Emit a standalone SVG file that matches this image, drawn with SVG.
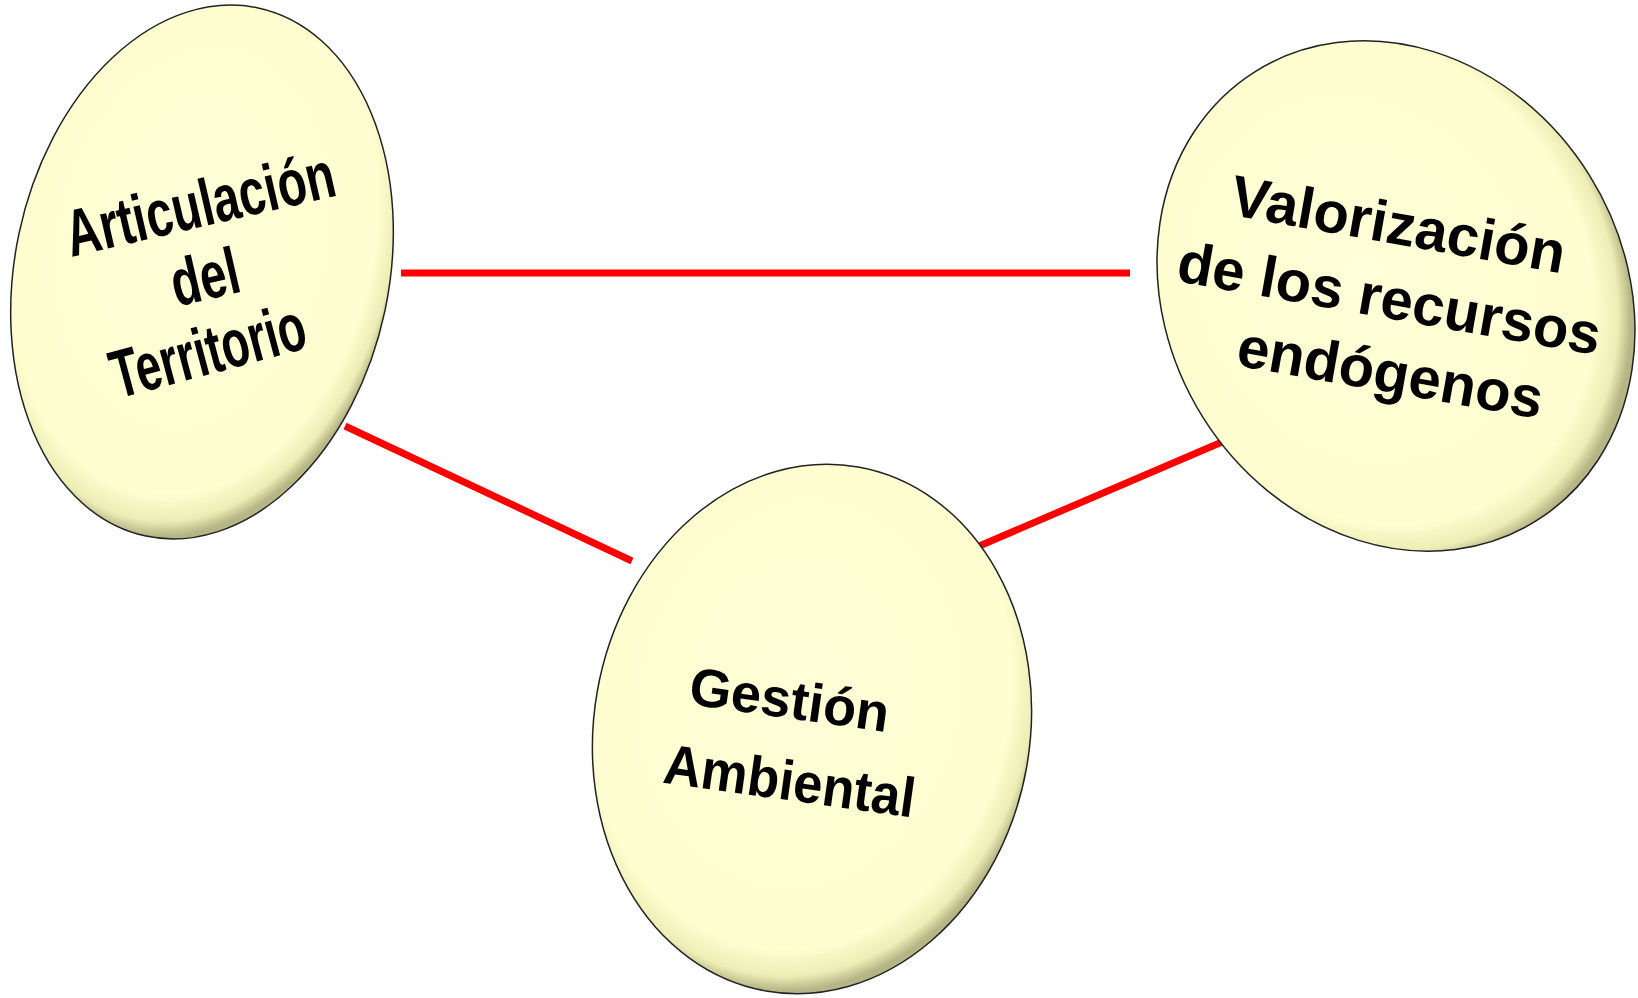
<svg xmlns="http://www.w3.org/2000/svg" width="1638" height="998" viewBox="0 0 1638 998">
<defs>
<radialGradient id="fillG" cx="0.46" cy="0.44" r="0.56">
<stop offset="0" stop-color="#FFFFD8"/>
<stop offset="0.86" stop-color="#FEFED0"/>
<stop offset="0.95" stop-color="#EDEDB6"/>
<stop offset="1" stop-color="#B5B585"/>
</radialGradient>
<style>
.node ellipse{fill:url(#fillG);stroke:#222;stroke-width:1.5}
.lbl{font-family:"Liberation Sans",Arial,sans-serif;font-weight:bold;fill:#000;text-anchor:middle}
.conn line{stroke:#FF0000;stroke-width:7;stroke-linecap:butt}
</style>
</defs>
<rect width="1638" height="998" fill="#fff"/>
<g id="connectors" class="conn">
<line x1="401" y1="273" x2="1130" y2="273"/>
<line x1="345" y1="426" x2="632" y2="561"/>
<line x1="977" y1="547" x2="1222" y2="442"/>
</g>
<g id="node-articulacion" class="node">
<ellipse cx="202" cy="272" rx="187" ry="270" transform="rotate(12 202 272)"/>
<text class="lbl" font-size="66" transform="translate(205 226) rotate(-13) scale(0.72 1)">Articulación</text>
<text class="lbl" font-size="66" transform="translate(210 299) rotate(-13) scale(0.72 1)">del</text>
<text class="lbl" font-size="68" transform="translate(214 373) rotate(-15) scale(0.67 1)">Territorio</text>
</g>
<g id="node-valorizacion" class="node">
<ellipse cx="1396" cy="296" rx="228" ry="265" transform="rotate(-32 1396 296)"/>
<text class="lbl" font-size="58" transform="translate(1395 244) rotate(10)">Valorización</text>
<text class="lbl" font-size="58" transform="translate(1386 318) rotate(10)">de los recursos</text>
<text class="lbl" font-size="58" transform="translate(1387 392) rotate(10)">endógenos</text>
</g>
<g id="node-gestion" class="node">
<ellipse cx="812" cy="729" rx="218" ry="266" transform="rotate(10 812 729)"/>
<text class="lbl" font-size="54" transform="translate(787 718) rotate(8)">Gestión</text>
<text class="lbl" font-size="54" transform="translate(787 800) rotate(8) scale(0.97 1.04)">Ambiental</text>
</g>
</svg>
